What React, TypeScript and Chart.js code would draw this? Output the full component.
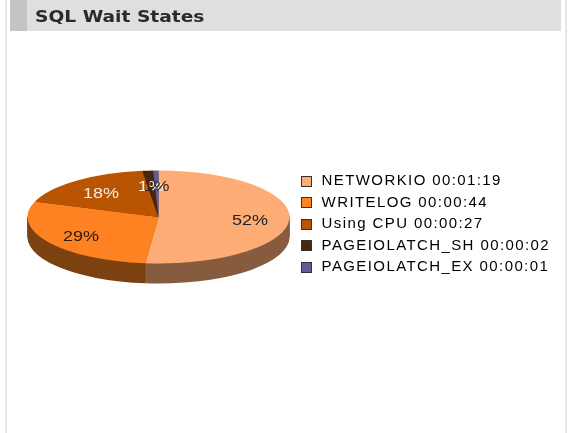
import React, { useEffect, useRef } from "react";
import Chart from "chart.js/auto";

const categories = ["NETWORKIO", "WRITELOG", "Using CPU", "PAGEIOLATCH_SH", "PAGEIOLATCH_EX"];
const durations = ["00:01:19", "00:00:44", "00:00:27", "00:00:02", "00:00:01"];
const seconds = [79, 44, 27, 2, 1];
const percentLabels = ["52%", "29%", "18%", "1%", "1%"];
const sliceColors = ["#fdac75", "#fe8122", "#b95502", "#4a2609", "#5f5c9c"];
const sideColors = ["#875c3f", "#7d4211", "#5e2b02", "#2a1505", "#333155"];
const labelColors = ["#222222", "#2a1a10", "#f5eee8", "#f5f0ee", "#33241e"];

const CX = 158.5, CY = 217, KY = 0.355, DEPTH = 20, RADIUS = 131;
const LEGEND_SPACING = "1.4px";
const SWATCH = 11;

const applyTilt = (ctx: CanvasRenderingContext2D, el: any, offset: number) => {
  ctx.translate(CX, CY + offset);
  ctx.scale(1, KY);
  ctx.translate(-el.x, -el.y);
};

const tiltPlugin = {
  id: "tilt",
  beforeLayout(chart: any) {
    chart.ctx.letterSpacing = LEGEND_SPACING;
  },
  beforeDraw(chart: any) {
    chart.ctx.letterSpacing = LEGEND_SPACING;
  },
  beforeDatasetsDraw(chart: any) {
    const ctx = chart.ctx as CanvasRenderingContext2D;
    const arcs = chart.getDatasetMeta(0).data;
    for (let d = DEPTH; d >= 1; d--) {
      arcs.forEach((el: any, i: number) => {
        ctx.save();
        applyTilt(ctx, el, d);
        ctx.beginPath();
        ctx.moveTo(el.x, el.y);
        ctx.arc(el.x, el.y, el.outerRadius, el.startAngle, el.endAngle);
        ctx.closePath();
        ctx.fillStyle = sideColors[i];
        ctx.fill();
        ctx.restore();
      });
    }
    ctx.save();
    applyTilt(ctx, arcs[0], 0);
  },
  afterDatasetsDraw(chart: any) {
    const ctx = chart.ctx as CanvasRenderingContext2D;
    ctx.restore();
    const arcs = chart.getDatasetMeta(0).data;
    ctx.save();
    ctx.letterSpacing = "0px";
    ctx.font = "15px 'Liberation Sans'";
    ctx.textAlign = "center";
    ctx.textBaseline = "middle";
    arcs.forEach((el: any, i: number) => {
      const mid = (el.startAngle + el.endAngle) / 2;
      const r = el.outerRadius * 0.7;
      ctx.save();
      ctx.translate(CX + Math.cos(mid) * r, CY + 2 + Math.sin(mid) * r * KY);
      ctx.scale(1.2, 1);
      ctx.fillStyle = labelColors[i];
      ctx.fillText(percentLabels[i], 0, 0);
      ctx.restore();
    });
    ctx.restore();
  },
  afterDraw(chart: any) {
    const ctx = chart.ctx as CanvasRenderingContext2D;
    chart.legend.legendHitBoxes.forEach((box: any, i: number) => {
      const x = Math.round(box.left) + 0.5;
      const y = Math.round(box.top + (box.height - SWATCH) / 2) + 0.5;
      ctx.fillStyle = sliceColors[i];
      ctx.strokeStyle = "#333333";
      ctx.lineWidth = 1;
      ctx.fillRect(x, y, SWATCH - 1, SWATCH - 1);
      ctx.strokeRect(x, y, SWATCH - 1, SWATCH - 1);
    });
  },
};

export default function App() {
  const ref = useRef<HTMLCanvasElement>(null);
  useEffect(() => {
    const chart = new Chart(ref.current!, {
      type: "pie",
      data: {
        labels: categories,
        datasets: [{ data: seconds, backgroundColor: sliceColors, borderWidth: 0, radius: RADIUS }],
      },
      plugins: [tiltPlugin as any],
      options: {
        responsive: false,
        animation: false,
        layout: { padding: { left: 20, right: 17, top: 15, bottom: 0 } },
        plugins: {
          tooltip: { enabled: false },
          legend: {
            position: "right",
            labels: {
              boxWidth: 13,
              boxHeight: 10,
              padding: 6.5,
              color: "#222222",
              font: { family: "'Liberation Sans'", size: 15 },
              generateLabels: () =>
                categories.map((c, i) => ({
                  text: `${c} ${durations[i]}`,
                  fillStyle: "rgba(0,0,0,0)",
                  strokeStyle: "rgba(0,0,0,0)",
                  lineWidth: 0,
                  index: i,
                })),
            },
          },
        },
      },
    });
    return () => chart.destroy();
  }, []);
  return (
    <div style={{ position: "fixed", left: 0, top: 0, width: 577, height: 433, background: "#fff", overflow: "hidden" }}>
      <div style={{ position: "absolute", left: 5, top: 0, width: 2, height: 433, background: "#e6e6e6" }} />
      <div style={{ position: "absolute", left: 565, top: 0, width: 2, height: 433, background: "#e6e6e6" }} />
      <div style={{ position: "absolute", left: 10, top: 0, width: 551, height: 31, background: "#dfdfdf" }} />
      <div style={{ position: "absolute", left: 10, top: 0, width: 17, height: 31, background: "#c4c4c4" }} />
      <div style={{ position: "absolute", left: 35, top: 7, fontFamily: "'DejaVu Sans'", fontWeight: "bold", fontSize: 16, lineHeight: "19px", color: "#2a2a2e", transform: "scaleX(1.165)", transformOrigin: "left center", whiteSpace: "nowrap", filter: "blur(0.4px)" }}>
        SQL Wait States
      </div>
      <canvas ref={ref} width={577} height={433} style={{ position: "absolute", left: 0, top: 0, filter: "blur(0.4px)" }} />
    </div>
  );
}
